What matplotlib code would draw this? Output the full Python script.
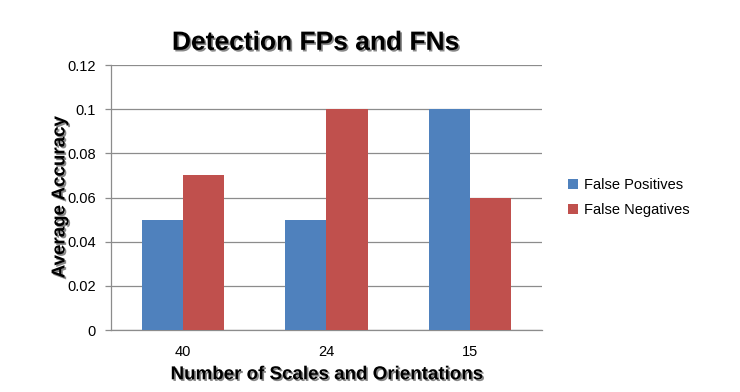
import matplotlib.pyplot as plt
import matplotlib.patheffects as pe
import numpy as np

plt.rcParams['font.family'] = ['Liberation Sans', 'DejaVu Sans']

# data
categories = ['40', '24', '15']
false_pos = [0.05, 0.05, 0.10]
false_neg = [0.07, 0.10, 0.06]

blue = '#4F81BD'
red = '#C0504D'
grid_col = '#8C8C8C'

fig = plt.figure(figsize=(7.4, 3.92), dpi=100)
ax = fig.add_axes([0.15, 0.158, 0.5824, 0.676])

x = np.arange(len(categories))
w = 0.2857
ax.bar(x - w / 2, false_pos, w, color=blue, label='False Positives', zorder=3)
ax.bar(x + w / 2, false_neg, w, color=red, label='False Negatives', zorder=3)

ax.set_xlim(-0.5, 2.5)
ax.set_ylim(0, 0.12)
ax.set_yticks(np.arange(0, 0.121, 0.02))
ax.set_yticklabels(['0', '0.02', '0.04', '0.06', '0.08', '0.1', '0.12'])
ax.set_xticks(x)
ax.set_xticklabels(categories)
ax.tick_params(axis='y', labelsize=10.5, colors=grid_col, labelcolor='black',
               length=4, width=0.9, pad=7)
ax.tick_params(axis='x', labelsize=10.5, length=0, pad=11)
ax.yaxis.grid(True, color=grid_col, linewidth=0.9, zorder=0)

for side in ['top', 'right']:
    ax.spines[side].set_visible(False)
for side in ['left', 'bottom']:
    ax.spines[side].set_color(grid_col)
    ax.spines[side].set_linewidth(0.9)

shadow = [pe.withSimplePatchShadow(offset=(1.2, -1.2), shadow_rgbFace='#555555', alpha=0.7)]
ax.set_title('Detection FPs and FNs', fontsize=19, fontweight='bold', pad=11, x=0.475,
             path_effects=shadow)
ax.set_xlabel('Number of Scales and Orientations', fontsize=13.5, fontweight='bold',
              labelpad=5, path_effects=shadow)
ax.set_ylabel('Average Accuracy', fontsize=13.5, fontweight='bold',
              labelpad=-1, path_effects=shadow)

ax.legend(loc='center left', bbox_to_anchor=(1.03, 0.5), frameon=False, fontsize=10.5,
          handlelength=0.7, handleheight=0.7, handletextpad=0.4, labelspacing=0.8)

fig.savefig('out.png', dpi=100)
